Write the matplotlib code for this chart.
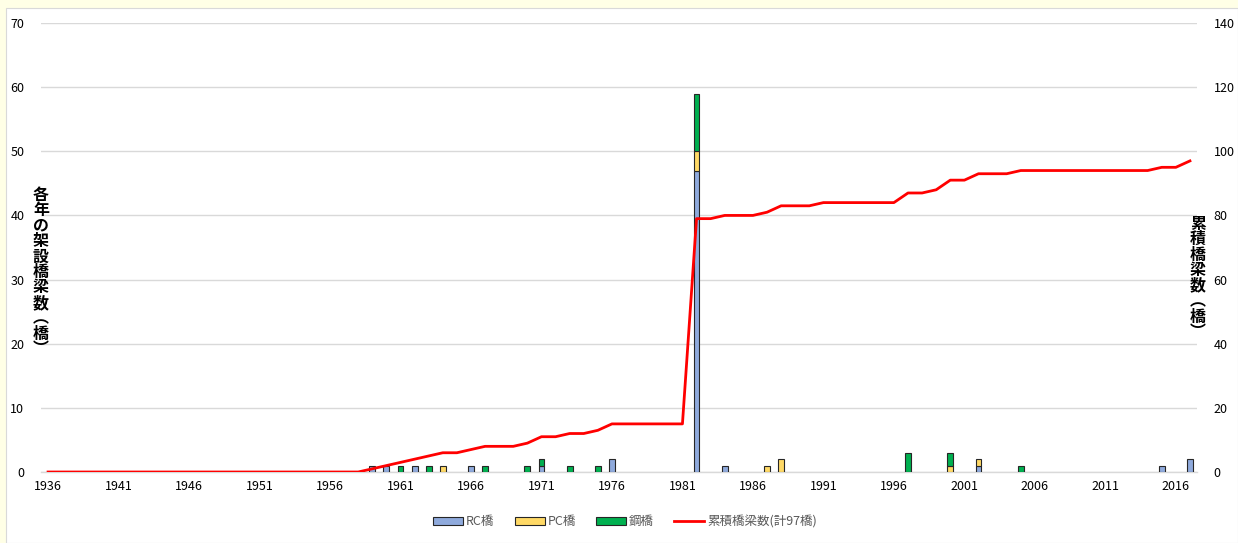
import matplotlib
matplotlib.use("Agg")
import matplotlib.pyplot as plt
from matplotlib.patches import Patch, Rectangle
from matplotlib.lines import Line2D
import numpy as np

plt.rcParams['font.family'] = ['Noto Sans CJK JP', 'DejaVu Sans']

years = list(range(1936, 2018))

rc_years = [1959, 1960, 1962, 1966, 1971, 1976, 1982, 1984, 2002, 2015, 2017]
rc_vals = [1, 1, 1, 1, 1, 2, 47, 1, 1, 1, 2]
pc_years = [1964, 1982, 1987, 1988, 2000, 2002]
pc_vals = [1, 3, 1, 2, 1, 1]
steel_years = [1961, 1963, 1967, 1970, 1971, 1973, 1975, 1982, 1997, 2000, 2005]
steel_vals = [1, 1, 1, 1, 1, 1, 1, 9, 3, 2, 1]

cumulative = ([0] * 23 +
              [1, 2, 3, 4, 5, 6, 6, 7, 8, 8, 8, 9, 11, 11, 12, 12, 13, 15,
               15, 15, 15, 15, 15,
               79, 79, 80, 80, 80, 81, 83, 83, 83,
               84, 84, 84, 84, 84, 84,
               87, 87, 88, 91, 91, 93, 93, 93,
               94, 94, 94, 94, 94, 94, 94, 94, 94, 94,
               95, 95, 97])

labels = ['RC橋', 'PC橋', '鋼橋', '累積橋梁数(計97橋)']
left_label = '各年の架設橋梁数(橋)'
right_label = '累積橋梁数(橋)'

def series(yrs, vals):
    arr = np.zeros(len(years))
    for y, v in zip(yrs, vals):
        arr[years.index(y)] = v
    return arr

rc = series(rc_years, rc_vals)
pc = series(pc_years, pc_vals)
steel = series(steel_years, steel_vals)

W, H = 1238, 543
fig = plt.figure(figsize=(W / 100, H / 100), dpi=100, facecolor='#FFFFE6')
fig.patches.append(Rectangle((6 / W, 0), 1 - 6 / W, 1 - 8 / H, transform=fig.transFigure,
                             facecolor='white', edgecolor='#D9D9D9', linewidth=0.8, zorder=-10))

ax = fig.add_axes([41 / W, (H - 472) / H, (1197 - 41) / W, (472 - 23) / H])
ax.set_facecolor('none')
x = np.arange(len(years))
bw = 0.42
c_rc, c_pc, c_st = '#8FAADC', '#FFD966', '#00B050'
ec = '#262626'

def stack(vals, bottom, color):
    m = vals > 0
    ax.bar(x[m], vals[m], bw, bottom=bottom[m], color=color, edgecolor=ec,
           linewidth=0.8, zorder=3)

zeros = np.zeros(len(years))
stack(rc, zeros, c_rc)
stack(pc, rc, c_pc)
stack(steel, rc + pc, c_st)

ax.set_xlim(-0.5, len(years) - 0.5)
ax.set_ylim(0, 70)
ax.set_yticks(range(0, 71, 10))
ax.grid(axis='y', color='#D9D9D9', linewidth=1.0, zorder=0)
ax.set_axisbelow(True)
for s in ['top', 'right', 'left']:
    ax.spines[s].set_visible(False)
ax.spines['bottom'].set_color('#D9D9D9')
ax.spines['bottom'].set_linewidth(1.0)
ticks = [i for i, y in enumerate(years) if (y - 1936) % 5 == 0]
ax.set_xticks(ticks)
ax.set_xticklabels([str(years[i]) for i in ticks])
ax.tick_params(axis='both', length=0, labelsize=9, colors='#000000')
ax.tick_params(axis='x', pad=6)
ax.tick_params(axis='y', pad=12)

ax2 = ax.twinx()
ax2.plot(x, cumulative, color='#FF0000', linewidth=2.0, zorder=5)
ax2.set_ylim(0, 140)
ax2.set_yticks(range(0, 141, 20))
for s in ax2.spines.values():
    s.set_visible(False)
ax2.tick_params(axis='y', length=0, labelsize=9, pad=12)

def vtext(s):
    return '\n'.join(s.replace('(', '︵').replace(')', '︶'))

fig.text(41 / W, 1 - 272 / H, vtext(left_label), ha='center', va='center',
         fontsize=11.5, fontweight='bold', linespacing=0.96, zorder=10)
fig.text(1198 / W, 1 - 278 / H, vtext(right_label), ha='center', va='center',
         fontsize=11.5, fontweight='bold', linespacing=0.96, zorder=10)

handles = [Patch(facecolor=c_rc, edgecolor=ec, linewidth=0.8),
           Patch(facecolor=c_pc, edgecolor=ec, linewidth=0.8),
           Patch(facecolor=c_st, edgecolor=ec, linewidth=0.8),
           Line2D([0], [0], color='#FF0000', linewidth=2.0)]
leg = fig.legend(handles, labels, loc='center', bbox_to_anchor=(625 / W, 1 - 522 / H),
                 ncol=4, frameon=False, fontsize=9, handlelength=2.4, handleheight=0.55,
                 columnspacing=1.65, handletextpad=0.2)
for t in leg.get_texts():
    t.set_color('#595959')

fig.savefig('out.png', dpi=100, facecolor=fig.get_facecolor())
